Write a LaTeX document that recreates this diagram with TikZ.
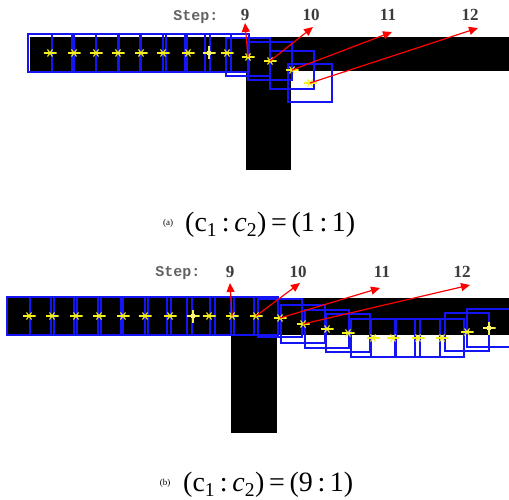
\documentclass[tikz,border=0pt]{standalone}
\usepackage{fontspec}
\setmainfont{Liberation Serif}
\setmonofont{Liberation Mono}
\usetikzlibrary{arrows.meta,positioning,calc}
\definecolor{trackblue}{RGB}{20,20,245}
\definecolor{spotyellow}{RGB}{245,240,30}
\definecolor{steptext}{RGB}{60,60,60}

\tikzset{
  win/.style={draw=trackblue, line width=1.3pt, minimum width=44pt, minimum height=38pt, inner sep=0pt},
  spot/.style={inner sep=0pt, minimum width=13pt, minimum height=9pt, path picture={
      \draw[spotyellow, line width=1.4pt] (path picture bounding box.west) -- (path picture bounding box.east);
      \draw[spotyellow, line width=1.1pt]
        ([shift={(-2.5pt,-3.5pt)}]path picture bounding box.center) -- ([shift={(2.5pt,3.5pt)}]path picture bounding box.center)
        ([shift={(-2.5pt,3.5pt)}]path picture bounding box.center) -- ([shift={(2.5pt,-3.5pt)}]path picture bounding box.center);
    }},
  bigspot/.style={inner sep=0pt, minimum size=13pt, path picture={
      \draw[spotyellow!80!white, line width=1.8pt]
        (path picture bounding box.west) -- (path picture bounding box.east)
        (path picture bounding box.north) -- (path picture bounding box.south);
      \fill[spotyellow!60!white] (path picture bounding box.center) circle (2.5pt);
    }},
  steparrow/.style={red, line width=1.2pt, -{Triangle[length=9pt,width=8pt]}},
  steplabel/.style={text=steptext, font=\fontsize{17}{17}\selectfont\bfseries},
  stephead/.style={text=steptext!80, font=\fontsize{15}{15}\selectfont\ttfamily\bfseries},
  capmain/.style={font=\fontsize{28}{30}\selectfont, inner sep=0pt},
  capsmall/.style={font=\fontsize{9}{9}\selectfont, inner sep=0pt},
}

\begin{document}
\begin{tikzpicture}[x=1pt, y=-1pt]
  \useasboundingbox (0,0) rectangle (509,500);

  % ---------- (a) c1:c2 = 1:1 ----------
  \fill[black] (30,37) rectangle (509,71);
  \fill[black] (246,71) rectangle (291,170);
  \foreach \x/\y [count=\k] in {50/53,74/53,96/53,118/53,141/53,163/53,188/53,209/53,227/53,
                                248/57,270/61,292/70,310/83}
    \coordinate (pa\k) at (\x,\y);
  \foreach \k in {1,...,13}
    \node[win] (wa\k) at (pa\k) {};
  \foreach \k in {1,...,13} {
    \ifnum\k=8
      \node[bigspot] (sa\k) at (pa\k) {};
    \else
      \node[spot] (sa\k) at (pa\k) {};
    \fi
  }
  \node[stephead] (stepa) at (196,17) {Step:};
  \foreach \n/\x in {9/245,10/311,11/388,12/470}
    \node[steplabel] (la\n) at (\x,15) {\n};
  \foreach \n/\x/\y in {9/245/23,10/313/27,11/392/32,12/478/28}
    \coordinate (ta\n) at (\x,\y);
  \foreach \k/\n in {10/9,11/10,12/11,13/12}
    \draw[steparrow] (sa\k.center) -- (ta\n);
  \node[capsmall] (capa) at (168,223) {(a)};
  \node[capmain, anchor=west] (forma) at (185,225)
    {(c\textsubscript{1}\,:\,\textit{c}\textsubscript{2})\,=\,(1\,:\,1)};

  % ---------- (b) c1:c2 = 9:1 ----------
  \fill[black] (7,298) rectangle (509,335);
  \fill[black] (231,335) rectangle (277,433);
  \foreach \x/\y [count=\k] in {29/316,52/316,76/316,99/316,123/316,145/316,170/316,193/316,209/316,
                                232/316,256/316,280/318,303/324,327/329,348/333,
                                373/338,393/338,418/338,442/338,467/332,489/328}
    \coordinate (pb\k) at (\x,\y);
  \foreach \k in {1,...,21}
    \node[win] (wb\k) at (pb\k) {};
  \foreach \k in {1,...,21} {
    \ifnum\k=8
      \node[bigspot] (sb\k) at (pb\k) {};
    \else\ifnum\k=21
      \node[bigspot] (sb\k) at (pb\k) {};
    \else
      \node[spot] (sb\k) at (pb\k) {};
    \fi\fi
  }
  \node[stephead] (stepb) at (178,273) {Step:};
  \foreach \n/\x in {9/230,10/298,11/382,12/462}
    \node[steplabel] (lb\n) at (\x,272) {\n};
  \foreach \n/\x/\y in {9/230/283,10/300/283,11/380/288,12/470/285}
    \coordinate (tb\n) at (\x,\y);
  \foreach \k/\n in {10/9,11/10,12/11,13/12}
    \draw[steparrow] (sb\k.center) -- (tb\n);
  \node[capsmall] (capb) at (165,483) {(b)};
  \node[capmain, anchor=west] (formb) at (183,485)
    {(c\textsubscript{1}\,:\,\textit{c}\textsubscript{2})\,=\,(9\,:\,1)};
\end{tikzpicture}
\end{document}
